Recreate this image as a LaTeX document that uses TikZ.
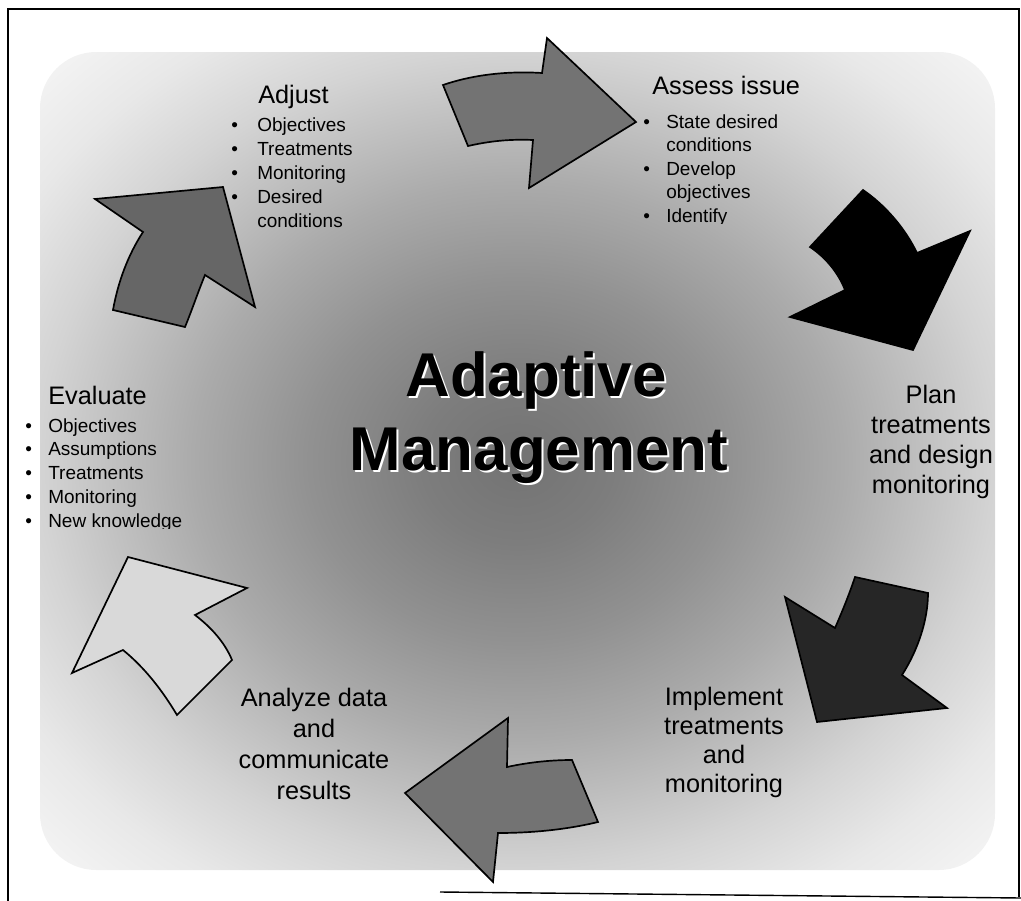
\documentclass[tikz,border=0pt]{standalone}
\usepackage{fontspec}
\setmainfont{Liberation Sans}
\usetikzlibrary{positioning}

% Soft glow behind the cycle
\pgfdeclareradialshading{amglow}{\pgfpoint{0bp}{0bp}}{%
  color(0bp)=(black!55); color(5bp)=(black!51); color(11bp)=(black!43);
  color(17bp)=(black!33); color(22bp)=(black!23); color(25bp)=(black!17);
  color(30bp)=(black!9); color(35bp)=(black!4); color(50bp)=(white)}

\begin{document}
\begin{tikzpicture}[x=0.025cm, y=-0.025cm,
  steplabel/.style={font=\fontsize{18}{21}\selectfont, inner sep=0pt},
  itemlabel/.style={font=\fontsize{13.5}{16}\selectfont, inner sep=0pt, anchor=base west},
  titlelabel/.style={font=\fontsize{44}{52}\selectfont\bfseries, inner sep=0pt, anchor=base},
  cyclearrow/.style={draw=black, line width=1.2pt, line join=miter}]

% Manually size the picture
\useasboundingbox (0,0) rectangle (1021,901);

% Background glow
\shade[shading=amglow, rounded corners=40pt] (40,52) rectangle (995,870);

% Arrow to assess issue
\draw[cyclearrow, fill=black!55] (443,85) .. controls (475,74) and (510,71) .. (542,73)
  -- (547,38) -- (636,122) -- (529,188) -- (533,140)
  .. controls (510,139) and (490,141) .. (468,146) -- cycle;

% Arrow to plan
\draw[cyclearrow, fill=black] (863,190) .. controls (885,205) and (905,228) .. (917,253)
  -- (970,231) -- (913,350) -- (790,317) -- (845,290)
  .. controls (838,272) and (825,257) .. (810,247) -- cycle;

% Arrow to implement
\draw[cyclearrow, fill=black!85] (855,577) -- (928,593)
  .. controls (928,620) and (918,650) .. (902,675)
  -- (947,708) -- (817,722) -- (785,597) -- (835,628)
  .. controls (842,612) and (849,595) .. (855,577) -- cycle;

% Arrow to analyze
\draw[cyclearrow, fill=black!55] (405,793) -- (508,718) -- (507,767)
  .. controls (530,762) and (552,760) .. (572,760)
  -- (598,822) .. controls (565,830) and (530,833) .. (498,833)
  -- (493,882) -- cycle;

% Arrow to evaluate
\draw[cyclearrow, fill=black!15] (128,557) -- (247,588) -- (195,615)
  .. controls (212,628) and (225,643) .. (232,660)
  -- (177,715) .. controls (162,690) and (145,668) .. (123,650)
  -- (72,673) -- cycle;

% Arrow to adjust
\draw[cyclearrow, fill=black!60] (95,199) -- (223,187) -- (255,307) -- (205,275)
  .. controls (198,292) and (192,310) .. (185,327)
  -- (113,310) .. controls (118,282) and (128,255) .. (143,232) -- cycle;

% Title
\node[titlelabel, white] (title-1-glow) at (538,398) {Adaptive};
\node[titlelabel] (title-1) at (536,396) {Adaptive};
\node[titlelabel, white] (title-2-glow) at (541,472) {Management};
\node[titlelabel] (title-2) at (539,470) {Management};

% Adjust
\node[steplabel, anchor=base west] (adjust) at (258,103) {Adjust};
\foreach \txt/\dot [count=\i] in {Objectives/1, Treatments/1, Monitoring/1, Desired/1, conditions/0} {
  \node[itemlabel] (adjust-\i) at (257, 107+24*\i) {\txt};
  \ifnum\dot=1 \node[itemlabel] (adjust-dot-\i) at (231, 107+24*\i) {\textbullet}; \fi
}

% Assess issue
\node[steplabel, anchor=base west] (assess) at (652,94) {Assess issue};
\begin{scope}
  \clip (0,0) rectangle (1021,223);
  \foreach \txt/\dot [count=\i] in {State desired/1, conditions/0, Develop/1, objectives/0, Identify/1} {
    \node[itemlabel] (assess-\i) at (666, 104.5+23.5*\i) {\txt};
    \ifnum\dot=1 \node[itemlabel] (assess-dot-\i) at (643, 104.5+23.5*\i) {\textbullet}; \fi
  }
\end{scope}

% Plan
\foreach \txt [count=\i] in {Plan, treatments, and design, monitoring}
  \node[steplabel, anchor=base] (plan-\i) at (931, 373+30*\i) {\txt};

% Implement
\foreach \txt [count=\i] in {Implement, treatments, and, monitoring}
  \node[steplabel, anchor=base] (implement-\i) at (724, 676+29*\i) {\txt};

% Analyze
\foreach \txt [count=\i] in {Analyze data, and, communicate, results}
  \node[steplabel, anchor=base] (analyze-\i) at (314, 675+31*\i) {\txt};

% Evaluate
\node[steplabel, anchor=base west] (evaluate) at (48,404) {Evaluate};
\begin{scope}
  \clip (0,0) rectangle (1021,528);
  \foreach \txt [count=\i] in {Objectives, Assumptions, Treatments, Monitoring, New knowledge} {
    \node[itemlabel] (evaluate-\i) at (48, 408.25+23.75*\i) {\txt};
    \node[itemlabel] (evaluate-dot-\i) at (25, 408.25+23.75*\i) {\textbullet};
  }
\end{scope}

% Frame
\draw[line width=1pt] (8,901) -- (8,9) -- (1019,9) -- (1019,897);
\draw[line width=1pt] (440,892) -- (1021,898);

\end{tikzpicture}
\end{document}
